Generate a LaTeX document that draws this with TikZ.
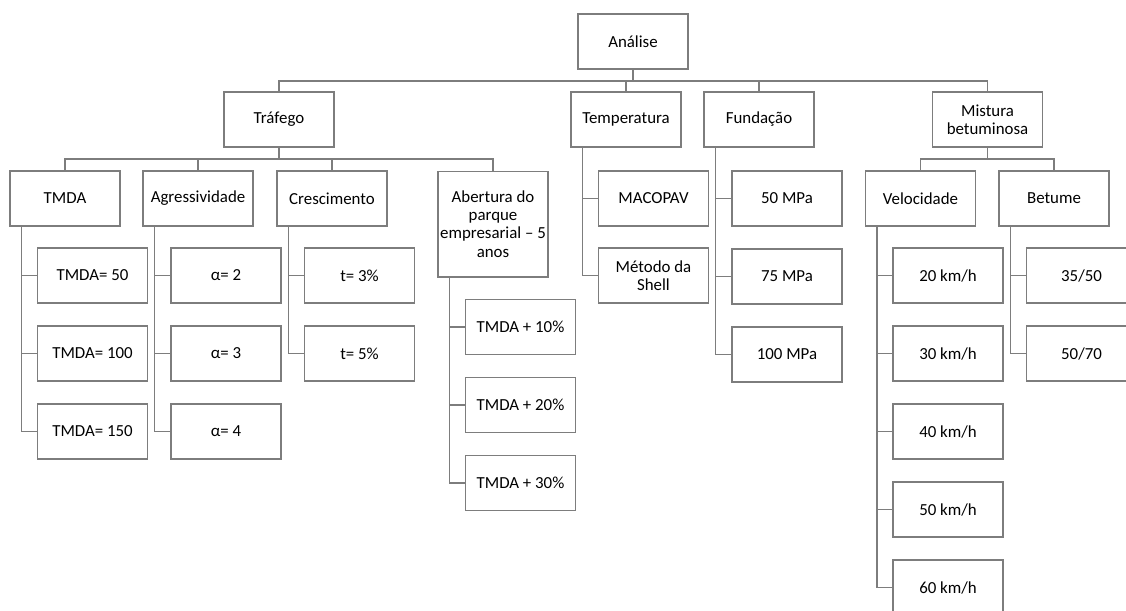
\documentclass[tikz,border=0pt]{standalone}
\usepackage{fontspec}
\setmainfont{Carlito}
\usetikzlibrary{calc}
\definecolor{linegray}{RGB}{125,125,125}
\begin{document}
\begin{tikzpicture}[x=0.02cm,y=-0.02cm,
  box/.style={draw=linegray,line width=0.8pt,minimum width=62.6pt,minimum height=31.2pt,
    align=center,inner sep=1pt,font=\fontsize{9.6}{10.4}\selectfont,text=black},
  link/.style={draw=linegray,line width=0.8pt}]
\useasboundingbox (0,0) rectangle (1126,610);
 \node[box] (an) at (633,41.5) {Análise};
 \node[box] (tr) at (279,119.5) {Tráfego};
 \node[box] (te) at (626,119.5) {Temperatura};
 \node[box] (fu) at (759,119.5) {Fundação};
 \node[box] (mi) at (987.5,119.5) {Mistura\\betuminosa};
 \node[box] (tm) at (65,198.5) {TMDA};
 \node[box] (ag) at (198,198.5) {Agressividade};
 \node[box] (cr) at (332,198.5) {Crescimento};
 \node[box,minimum height=60.1pt] (ab) at (493,224) {Abertura do\\parque\\empresarial – 5\\anos};
 \node[box] (ve) at (920.5,198.5) {Velocidade};
 \node[box] (be) at (1054,198.5) {Betume};
 \node[box] (te1) at (653.5,198.5) {MACOPAV};
 \node[box] (te2) at (653.5,275.5) {Método da\\Shell};
 \foreach \t [count=\i] in {50 MPa,75 MPa,100 MPa}
   \node[box] (fu\i) at (787,120.5+78*\i) {\t};
 \foreach \t [count=\i] in {TMDA= 50,TMDA= 100,TMDA= 150}
   \node[box] (tm\i) at (92.5,197.5+78*\i) {\t};
 \foreach \t [count=\i] in {α= 2,α= 3,α= 4}
   \node[box] (ag\i) at (226,197.5+78*\i) {\t};
 \foreach \t [count=\i] in {t= 3\%,t= 5\%}
   \node[box] (cr\i) at (359.5,197.5+78*\i) {\t};
 \foreach \t [count=\i] in {TMDA + 10\%,TMDA + 20\%,TMDA + 30\%}
   \node[box] (ab\i) at (520.5,249+78*\i) {\t};
 \foreach \t [count=\i] in {20,30,40,50,60}
   \node[box] (ve\i) at (948,197.5+78*\i) {\t\ km/h};
 \foreach \t [count=\i] in {35/50,50/70}
   \node[box] (be\i) at (1081.5,197.5+78*\i) {\t};
 \coordinate (top) at (633,81);
 \coordinate (trb) at (279,159);
 \coordinate (mib) at (987.5,159);
 \draw[link] (an) -- (top);
 \draw[link] (tr) |- (top) -| (mi);
 \draw[link] (te) -- (te |- top);
 \draw[link] (fu) -- (fu |- top);
 \draw[link] (tr) -- (trb);
 \draw[link] (tm) |- (trb) -| (ab);
 \draw[link] (ag) -- (ag |- trb);
 \draw[link] (cr) -- (cr |- trb);
 \draw[link] (mi) -- (mib);
 \draw[link] (ve) |- (mib) -| (be);
 \foreach \p/\c in {tm/tm1,tm/tm2,tm/tm3,ag/ag1,ag/ag2,ag/ag3,cr/cr1,cr/cr2,
   ab/ab1,ab/ab2,ab/ab3,te/te1,te/te2,fu/fu1,fu/fu2,fu/fu3,
   ve/ve1,ve/ve2,ve/ve3,ve/ve4,ve/ve5,be/be1,be/be2}
   \draw[link] ($(\p.south west)+(12,0)$) |- (\c.west);
\end{tikzpicture}
\end{document}
